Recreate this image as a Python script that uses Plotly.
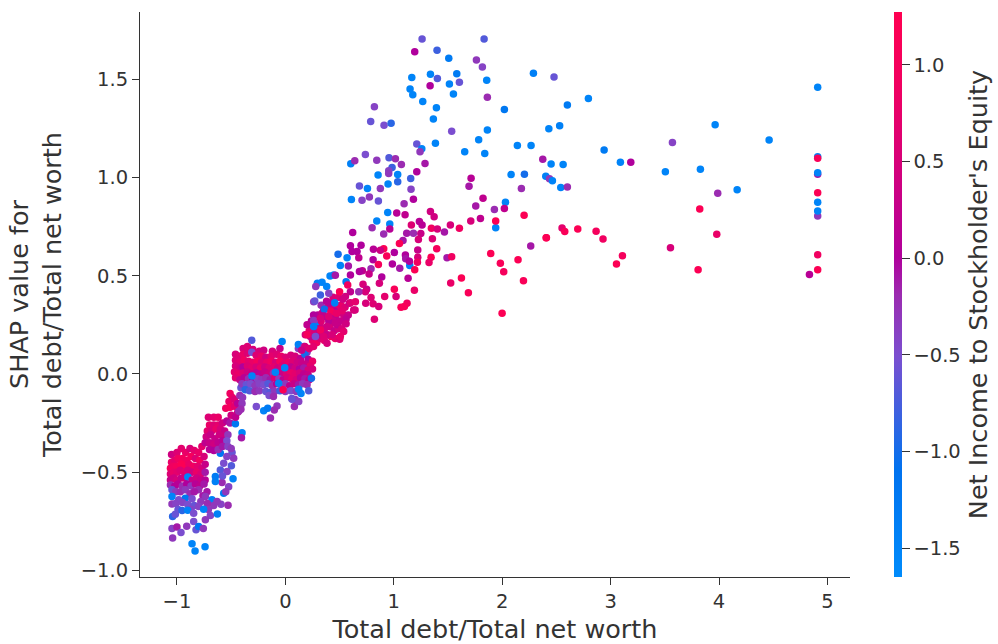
import plotly.graph_objects as go

# each point: (Total debt/Total net worth, SHAP value, Net Income to Stockholder's Equity)
points_far = [
(2.478,1.512,-.6),(2.795,1.402,-1.5),(2.601,1.370,-1.3),(2.43,1.249,-1.5),(2.53,1.264,-1.4),(2.94,1.14,-1.3),
(3.09,1.078,-1.5),(3.186,1.078,0),(2.374,1.093,-.1),(2.451,1.069,-1.5),(2.562,1.066,-1.5),(2.402,1.006,-1.4),
(2.436,.994,-.3),(2.463,.984,-1.5),(2.54,.949,-1.5),(2.601,.952,-.2),(3.57,1.178,-.4),(3.505,1.029,-1.5),
(3.828,1.042,-1.5),(3.964,1.269,-1.5),(4.462,1.191,-1.5),(4.167,.938,-1.5),(3.988,.92,-.2),(3.822,.84,1.2),
(3.979,.711,.8),(3.552,.642,.5),(3.807,.531,1.2),(4.91,1.46,-1.5),(4.91,1.106,-1.4),(4.91,1.098,1.1),
(4.91,1.017,-.1),(4.91,1.025,-1.5),(4.91,.922,1.2),(4.91,.804,-.3),(4.91,.83,-1.5),(4.91,.874,-1.5),
(4.91,.607,.9),(4.91,.531,1.2),(4.834,.506,.1),(2.405,.694,1.2),(2.552,.743,.7),(2.577,.725,1.1),
(2.697,.738,1.2),(2.866,.726,1.0),(2.93,.687,.9),(3.109,.602,1.0),(3.054,.56,1.2),
]
points_spread = [
(1.261,1.706,-.6),(1.833,1.706,-.7),(1.193,1.640,0),(1.399,1.648,-.8),(1.507,1.607,-1.3),(1.762,1.599,-.3),
(1.817,1.563,-.4),(1.166,1.509,-1.5),(1.338,1.526,-1.5),(1.402,1.504,-.7),(1.581,1.529,-1.3),(1.513,1.477,-1.5),
(1.605,1.485,-.6),(1.857,1.495,-1.5),(1.335,1.468,0),(1.15,1.451,-1.5),(1.175,1.421,-1.5),(1.55,1.426,-1.5),
(1.863,1.409,-.2),(1.267,1.387,-1.5),(1.393,1.356,-1.5),(.821,1.36,-.4),(2.02,1.346,-1.2),(2.288,1.531,-1.4),
(1.365,1.298,-1.5),(.787,1.285,-.6),(.91,1.266,-.5),(.975,1.276,-.9),(1.534,1.236,-.5),(1.863,1.242,-1.5),
(1.783,1.193,-1.5),(1.212,1.171,-.6),(1.384,1.175,-1.5),(1.258,1.147,-1.5),(1.242,1.132,-.3),(1.654,1.132,-1.5),
(1.839,1.122,-1.5),(2.14,1.163,-1.5),(2.266,1.163,-1.5),(.738,1.118,-.5),(.603,1.07,-1.4),(.64,1.085,-.2),
(.843,1.088,-.3),(.956,1.101,-.7),(1.015,1.096,-.2),(1.07,1.066,-.2),(1.288,1.071,-.1),(.984,1.051,-.8),
(.953,1.035,-.4),(.953,1.02,-.3),(1.212,1.03,0),(.855,1.013,-1.5),(1.036,1.015,-1.5),(1.036,.979,-.9),
(1.156,.995,-.8),(.947,.967,-1.5),(.683,.957,-.6),(.757,.944,-1.5),(.876,.944,-.3),(1.159,.94,-.4),
(1.713,.996,.1),(1.694,.956,-.1),(2.082,1.015,-1.5),(2.205,1.017,-1.0),(2.177,.944,-.2),(.609,.888,-1.5),
(.707,.884,-.4),(.775,.901,-.3),(.858,.881,-.6),(1.181,.89,0),(1.095,.866,-.2),(1.823,.895,.2),
(1.756,.855,-.1),(1.928,.837,-.2),(2.03,.874,-1.5),(2.02,.842,.2),(.944,.822,-1.5),(1.027,.82,.1),
(1.104,.81,.2),(1.338,.827,.4),(1.372,.801,.4),(2.202,.808,1.2),(.843,.779,-1.5),(.963,.764,-1.5),
(.8,.745,-.2),(.963,.738,.1),(1.162,.759,.6),(1.236,.776,.1),(1.261,.759,.1),(1.522,.759,.5),
(1.605,.742,.9),(1.71,.779,.5),(1.799,.791,.2),(1.94,.745,-1.5),(1.94,.779,1.2),(1.347,.742,.9),
(1.402,.738,.5),(1.467,.723,-.1),(.621,.72,0),(.907,.713,-.2),(1.119,.716,-.1),(1.181,.716,-.2),
(1.249,.715,.3),(2.408,.694,1.2),(1.356,.688,.6),(1.227,.684,.5),(1.085,.679,-.1),(1.052,.664,1.2),
(.698,.655,0),(.6,.653,0),(2.263,.652,-.1),(.812,.635,.1),(.907,.638,1.2),(1.396,.638,1.0),
(1.221,.631,.3),(1.005,.618,0),(.876,.63,.4),(.615,.623,0),(.661,.623,0),(.935,.601,1.1),
(1.107,.606,0),(.486,.609,-1.0),(.569,.592,-1.5),(.677,.592,.2),(.809,.581,0),(1.11,.587,-.1),
(1.147,.552,-1.5),(1.144,.574,0),(1.221,.594,.5),(1.344,.594,1.2),(1.491,.592,-.1),(1.534,.597,.9),
(1.894,.613,1.2),(1.983,.564,1.1),(2.146,.582,1.2),(1.325,.567,.8),(.987,.56,0),(.858,.557,1.0),
(.507,.552,-1.5),(.581,.55,-.1),(1.055,.538,-.1),(1.218,.569,.9),(.79,.535,-.2),(.71,.526,.2),
(2.014,.52,1.0),(1.193,.53,1.2),(.6,.504,0),(.683,.521,0),(.772,.509,.3),(.889,.494,0),
(1.132,.487,.1),(.446,.504,-1.5),(.412,.499,-1.5),(.461,.502,-.1),(1.624,.489,1.2),(2.196,.475,1.1),
(1.525,.463,.8),(.867,.462,.5),(.56,.47,-1.3),(.295,.462,-1.4),(.338,.467,-1.5),(.28,.445,-.3),
(.381,.445,-1.5),(.716,.457,.5),(.575,.453,.9),(.75,.431,.3),(.738,.419,.5),(1.005,.431,1.1),
(1.19,.426,.8),(1.688,.413,1.1),(.677,.419,-.2),(.323,.402,-.8),(.4,.411,-.4),(.5,.418,1.2),
(.6,.419,.2),(.554,.394,.4),(.916,.394,.7),(1.021,.394,.5),(.79,.389,.6),(.271,.372,-.6),
(.6,.363,.6),(.646,.368,.7),(.741,.36,.5),(.809,.357,.6),(.861,.343,.5),(1.122,.36,.9),
(1.098,.343,1.1),(1.067,.34,1.1),(.36,.329,-1.0),(.421,.318,1.0),(.523,.322,.7),(.643,.326,.5),
(.821,.278,.6),(1.999,.309,1.2),(.471,.309,.8),(.354,.295,.2),(.261,.272,-.3),(.323,.284,.5),
(.4,.292,.6),(.56,.255,.4),(.461,.258,.3),(.538,.216,.7),(.384,.241,.4),(.323,.224,.9),
(.2,.199,1.0),(.431,.199,.5),(.507,.19,.8),(.354,.19,.6),(.277,.19,-.5),(.455,.363,-1.4),(.261,.241,-1.4),
]
points_upper = [
(.184,.199,.5),(.22,.22,.7),(.25,.17,.8),(.29,.16,.9),(.323,.18,.6),(.36,.17,.7),(.384,.156,.5),(.42,.19,1.0),
(.46,.18,.8),(.501,.177,.6),(.2,.25,.2),(.24,.27,.1),(.28,.25,.6),(.32,.25,.4),(.36,.23,.6),(.41,.24,.5),
(.45,.22,.3),(.49,.23,.5),(.553,.258,.4),(.52,.27,.6),(.3,.3,.1),(.34,.31,.3),(.38,.29,.6),(.42,.31,.7),
(.46,.29,.2),(.5,.31,.5),(.54,.3,.4),(.58,.3,.3),(.63,.326,.5),(.354,.326,.2),(.39,.34,.4),(.43,.35,.7),
(.47,.33,.7),(.51,.35,.8),(.55,.34,.6),(.59,.36,.3),(.277,.25,-1.5),(.261,.368,-.3),(.452,.363,-1.5),(.33,.35,-.2),
(.38,.37,.1),(.44,.39,.5),(.49,.39,.6),(.53,.38,.4),(.18,.14,.5),(.15,.12,.3),(.22,.13,.6),(.26,.14,.7),
(.23,.19,.3),(.27,.21,.5),(.31,.2,.2),(.35,.21,.4),(.39,.2,.3),(.44,.27,.4),(.48,.25,.2),(.52,.23,.5),
(.26,.3,.0),(.4,.27,.1),(.33,.27,.6),(.56,.28,.2),(.41,.36,.1),(.5,.27,.3),(.45,.32,.1),(.3,.23,.3),
]
points_main = [
(-.39,.13,.5),(-.35,.14,.6),(-.3,.125,.5),(-.24,.115,.5),(-.2,.12,.4),(-.12,.115,.5),(-.05,.13,.3),(.12,.13,-.3),
(-.31,.172,-.7),(-.03,.165,-1.5),(.12,.15,-1.4),(.17,.14,-.6),(.2,.11,-.3),
(-.46,.1,.5),(-.43,.09,.6),(-.39,.1,.8),(-.35,.105,.6),(-.31,.11,-.5),(-.27,.095,.6),(-.22,.09,.8),(-.18,.085,.4),
(-.13,.09,.7),(-.08,.1,.6),(-.04,.09,.8),(.0,.085,.6),(.05,.095,.5),(.09,.09,.5),(.14,.08,.2),(.18,.1,-1.0),
(.21,.075,.0),(.25,.065,.8),
(-.46,.07,.6),(-.42,.06,.7),(-.38,.07,.9),(-.34,.065,.7),(-.3,.06,.8),(-.26,.065,1.0),(-.22,.06,.6),(-.17,.06,.8),
(-.13,.065,.9),(-.09,.06,.5),(-.05,.065,1.0),(-.01,.055,.7),(.03,.06,.8),(.07,.065,.6),(.11,.06,.4),(.15,.055,.3),
(.19,.05,.3),(.23,.04,.7),
(-.46,.04,.5),(-.42,.03,.4),(-.39,.035,.0),(-.35,.04,.6),(-.31,.03,.7),(-.27,.035,.5),(-.23,.03,.8),(-.19,.035,.4),
(-.15,.03,.6),(-.11,.035,.7),(-.07,.03,.4),(-.03,.04,.6),(.01,.025,.7),(.05,.035,.2),(.09,.03,.4),(.13,.025,.0),
(.17,.03,-.1),(.21,.02,.5),(.25,.025,.5),
(-.47,.01,.7),(-.43,.0,.8),(-.39,.005,.6),(-.35,.01,.4),(-.31,.0,.2),(-.27,.005,.1),(-.23,.0,.2),(-.19,.01,.3),
(-.15,.0,.4),(-.11,.005,-.2),(-.07,.0,.7),(-.03,.005,.3),(.01,.0,.6),(.05,.005,.8),(.09,.0,.7),(.13,.005,.5),
(.17,.0,.2),(.21,-.005,.3),
(-.46,-.02,.7),(-.42,-.03,.3),(-.38,-.02,.1),(-.34,-.025,-.2),(-.3,-.03,.0),(-.26,-.025,-.4),(-.22,-.03,-.3),(-.18,-.02,-.2),
(-.14,-.03,-.1),(-.1,-.02,.6),(-.06,-.025,-.3),(-.02,-.03,.2),(.02,-.02,.5),(.06,-.025,.7),(.1,-.03,.5),(.14,-.02,.1),
(.18,-.025,-.1),(.22,-.03,.2),
(-.4,-.05,-.3),(-.36,-.055,-.6),(-.32,-.05,-.5),(-.28,-.06,-.3),(-.24,-.05,-.4),(-.2,-.055,-.5),(-.16,-.05,-.7),(-.12,-.06,-.2),
(-.08,-.05,.1),(-.04,-.055,-.5),(.0,-.05,-.3),(.04,-.06,.2),(.08,-.05,.3),(.12,-.055,-.1),(.16,-.05,-.3),(.2,-.055,-.2),
(-.37,-.08,-.9),(-.33,-.085,-.7),(-.28,-.09,-.2),(-.24,-.085,-.3),(-.18,-.09,-.6),(-.14,-.095,-.7),(-.1,-.09,-.3),(-.05,-.085,-.8),
(.0,-.09,-.3),(.05,-.085,-.5),(.1,-.09,-.3),
(-.15,-.11,-.5),(-.11,-.115,-.2),(.06,-.125,-.6),(.09,-.13,-.3),
(-.308,-.01,-1.5),(-.092,.009,-1.5),(-.006,.032,-1.5),(-.062,-.047,-1.5),(.24,-.022,-1.0),(.123,-.078,-1.5),(.144,-.1,-1.5),
(.215,-.085,-.7),(-.022,-.081,1.2),(-.268,-.166,-.5),(-.2,-.187,-1.5),(-.163,-.175,-1.3),(-.077,-.163,-.3),(-.102,-.183,-.2),
(-.138,-.224,-.2),(.083,-.166,-.2),(.123,-.14,-.4),(.061,-.129,-.6),
]
points_middle = [
(-.71,-.22,.6),(-.66,-.22,.7),(-.62,-.22,.8),(-.7,-.26,.8),(-.66,-.26,.6),(-.62,-.26,.7),(-.58,-.25,.4),(-.54,-.24,.1),
(-.72,-.29,.7),(-.68,-.29,.5),(-.64,-.28,.8),(-.6,-.28,.5),(-.56,-.29,.3),(-.51,-.25,-.1),(-.461,-.254,-1.2),
(-.73,-.32,.4),(-.69,-.31,.3),(-.65,-.33,.3),(-.61,-.31,.4),(-.57,-.32,.4),(-.53,-.31,-.3),(-.74,-.35,.2),(-.7,-.35,.3),
(-.66,-.36,.4),(-.62,-.35,.2),(-.58,-.34,.1),(-.54,-.34,-.5),(-.7,-.385,.1),(-.66,-.39,.0),(-.62,-.385,-.2),(-.58,-.37,-.1),
(-.53,-.37,-.4),(-.5,-.38,-.3),(-.4,-.299,-1.5),(-.405,-.325,-.1),
(-.51,-.10,.9),(-.49,-.12,.8),(-.52,-.14,.8),(-.47,-.13,.6),(-.55,-.175,.9),(-.51,-.17,1.0),(-.47,-.165,.7),(-.44,-.15,.1),
(-.42,-.11,-.2),(-.41,-.07,-.6),(-.44,-.195,.3),(-.5,-.21,.4),(-.46,-.22,.2),(-.43,-.19,-.2),(-.4,-.15,-.3),(-.395,-.12,-.3),(-.41,-.18,-.2),
]
points_lower = [
(-1.05,-.41,.4),(-1.0,-.40,.6),(-.96,-.38,.7),(-.92,-.40,.8),(-.88,-.38,.5),(-.84,-.39,.7),(-.80,-.40,.8),(-.77,-.37,.7),
(-1.05,-.45,.8),(-1.02,-.44,.7),(-.99,-.43,.9),(-.95,-.43,1.0),(-.91,-.44,.9),(-.87,-.42,1.0),(-.83,-.43,.6),(-.79,-.44,1.0),(-.75,-.42,.5),
(-1.06,-.48,1.0),(-1.03,-.47,.9),(-1.0,-.47,1.0),(-.96,-.46,1.2),(-.93,-.47,1.2),(-.89,-.46,.8),(-.85,-.47,.9),(-.81,-.47,.7),(-.77,-.48,.5),(-.74,-.46,.3),
(-1.06,-.51,.6),(-1.03,-.50,.8),(-1.0,-.50,.7),(-.97,-.49,.6),(-.93,-.50,.7),(-.9,-.49,.5),(-.86,-.50,.4),(-.82,-.5,.8),(-.78,-.51,.6),(-.74,-.5,-.1),
(-1.06,-.54,.3),(-1.03,-.53,.4),(-1.0,-.54,.5),(-.96,-.53,.3),(-.93,-.53,.4),(-.9,-.525,-1.5),(-.86,-.54,.3),(-.82,-.53,.4),(-.78,-.54,.3),(-.74,-.54,.1),
(-1.06,-.565,-.2),(-1.02,-.57,.0),(-.99,-.56,.1),(-.95,-.57,-.2),(-.91,-.56,.0),(-.87,-.57,-.3),(-.83,-.56,.1),(-.79,-.57,.2),(-.75,-.56,-.1),
(-1.046,-.59,-.6),(-1.01,-.6,-.3),(-.969,-.6,-.2),(-.923,-.59,-.3),(-.8,-.59,-.2),(-.723,-.6,-.1),(-.88,-.61,-.2),(-.84,-.6,-.1),(-.76,-.62,-.1),
(-1.046,-.624,-1.5),(-.923,-.633,-1.2),(-.861,-.636,-.5),(-.738,-.624,-.3),(-1.046,-.662,-.3),(-.984,-.641,-.5),(-.677,-.641,-1.4),(-.661,-.67,-.3),(-.594,-.663,-.4),(-.529,-.669,-.2),
(-1.01,-.66,-.4),(-.95,-.655,-.4),(-.9,-.665,-.5),(-.84,-.67,-.6),(-.78,-.65,-.3),(-.72,-.66,-.2),(-.99,-.69,-.6),(-.87,-.69,-.4),(-.71,-.69,-.3),(-.63,-.65,-.3),
(-1.04,-.726,-.9),(-1.015,-.714,-.6),(-.953,-.696,-.9),(-.901,-.694,-1.5),(-.846,-.709,-.5),(-.8,-.675,-.4),(-.754,-.689,-1.5),(-.692,-.721,-.4),(-.627,-.713,-1.4),
(-.846,-.752,-.5),(-.738,-.743,-.3),(-1.046,-.787,-.4),(-1.0,-.779,-.1),(-.963,-.808,-.5),(-.91,-.775,-.3),(-.824,-.794,-.6),(-.8,-.777,-1.2),(-.757,-.787,-.3),
(-1.04,-.835,-.3),(-.861,-.865,-1.5),(-.833,-.901,-1.5),(-.741,-.88,-1.5),
(-.569,-.607,-1.3),(-.523,-.574,-.4),(-.584,-.553,-.2),(-.646,-.548,-1.4),(-.483,-.534,-1.5),(-.6,-.404,-1.2),(-.492,-.4,-.6),(-.477,-.429,-.3),
(-.569,-.455,-.5),(-.498,-.467,-.7),(-.6,-.489,-.7),(-.538,-.497,-.4),(-.646,-.522,-1.3),(-.54,-.42,-.4),(-.58,-.52,-.6),(-.55,-.6,-.3),
]

ticks_x = [-1, 0, 1, 2, 3, 4, 5]
ticks_y = [-1.0, -0.5, 0.0, 0.5, 1.0, 1.5]
ticks_c = [-1.5, -1.0, -0.5, 0.0, 0.5, 1.0]
x_title = "Total debt/Total net worth"
y_title = "SHAP value for<br>Total debt/Total net worth"
c_title = "Net Income to Stockholder's Equity"

all_points = points_lower + points_middle + points_main + points_upper + points_spread + points_far
xs, ys, cs = zip(*all_points)

ink = "#333333"
font = "DejaVu Sans"
scale = [[0, "#008bfb"], [0.19, "#0072ef"], [0.39, "#7a4fd0"], [0.5, "#9c2bb0"], [0.565, "#b0009c"],
         [0.74, "#d80078"], [0.88, "#f2005f"], [1, "#ff0051"]]

def minus(v):
    return f"{v}".replace("-", "\u2212")

fig = go.Figure(go.Scatter(
    x=xs, y=ys, mode="markers",
    marker=dict(
        size=7.5, color=cs, cmin=-1.65, cmax=1.274, colorscale=scale, line=dict(width=0),
        colorbar=dict(
            x=1.062, xanchor="left", y=0, yanchor="bottom", len=1, lenmode="fraction",
            thickness=8, thicknessmode="pixels", outlinewidth=0, xpad=0, ypad=0,
            tickvals=ticks_c, ticktext=[minus(v) for v in ticks_c], ticks="outside", ticklen=8, tickwidth=1,
            ticksuffix="\u00a0", tickcolor=ink, tickfont=dict(family=font, size=19.5, color=ink),
            title=dict(text=c_title, side="right", font=dict(family=font, size=25.5, color=ink)),
        ),
    ),
))
fig.update_layout(
    width=998, height=644, margin=dict(l=140, r=148, t=12, b=67, autoexpand=False),
    paper_bgcolor="white", plot_bgcolor="white", showlegend=False,
    xaxis=dict(range=[-1.341, 5.208], tickvals=ticks_x, ticktext=[minus(v) for v in ticks_x], showgrid=False, zeroline=False,
               automargin=False, showline=True, linecolor=ink, linewidth=1, ticks="outside", ticklen=7, tickcolor=ink,
               tickfont=dict(family=font, size=19.5, color=ink),
               title=dict(text=x_title, standoff=13, font=dict(family=font, size=25.5, color=ink))),
    yaxis=dict(range=[-1.034, 1.843], tickvals=ticks_y, ticktext=[minus(v) for v in ticks_y], showgrid=False, zeroline=False,
               automargin=False, showline=True, linecolor=ink, linewidth=1, ticks="outside", ticklen=7, tickcolor=ink,
               tickfont=dict(family=font, size=19.5, color=ink),
               title=dict(text=y_title, standoff=11, font=dict(family=font, size=25.5, color=ink))),
)
fig.write_html("out.html", config={"displayModeBar": False}, post_script="document.body.style.margin='0';")
